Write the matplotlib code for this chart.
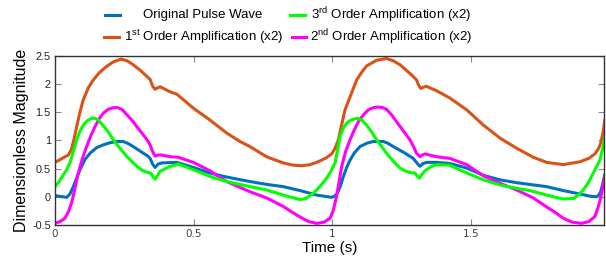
import matplotlib
matplotlib.use("Agg")
import matplotlib.pyplot as plt
from matplotlib.lines import Line2D

plt.rcParams["font.family"] = ["Liberation Sans", "DejaVu Sans"]
plt.rcParams["mathtext.fontset"] = "custom"
plt.rcParams["mathtext.rm"] = "Liberation Sans"

# Original pulse wave
t_orig = [0, 0.042, 0.054, 0.066, 0.078, 0.090, 0.108, 0.126, 0.150, 0.174, 0.200, 0.223,
          0.246, 0.265, 0.282, 0.310, 0.335, 0.343, 0.352, 0.361, 0.372, 0.385,
          0.439, 0.499, 0.559, 0.619, 0.703, 0.763, 0.823, 0.884, 0.944, 0.998, 1.008, 1.018,
          1.030, 1.040, 1.052, 1.064, 1.080, 1.100, 1.125, 1.148, 1.184, 1.200, 1.220, 1.260,
          1.292, 1.305, 1.316, 1.328, 1.340, 1.376, 1.424, 1.485, 1.545,
          1.605, 1.665, 1.725, 1.773, 1.833, 1.893, 1.930, 1.953, 1.961, 1.968, 1.975, 1.983]
v_orig = [0.02, -0.01, 0.05, 0.18, 0.33, 0.48, 0.66, 0.77, 0.87, 0.92, 0.96, 0.98,
          0.98, 0.94, 0.89, 0.80, 0.72, 0.68, 0.58, 0.52, 0.58, 0.60,
          0.61, 0.52, 0.42, 0.35, 0.27, 0.22, 0.18, 0.11, 0.03, -0.01, 0.01, 0.06,
          0.20, 0.36, 0.52, 0.65, 0.78, 0.89, 0.95, 0.98, 0.98, 0.95, 0.89, 0.78,
          0.68, 0.60, 0.54, 0.59, 0.61, 0.61, 0.59, 0.51, 0.38,
          0.30, 0.25, 0.21, 0.18, 0.11, 0.05, 0.01, 0.00, 0.03, 0.09, 0.22, 0.39]

# 1st order amplification (x2)
t_first = [0, 0.048, 0.060, 0.070, 0.078, 0.090, 0.102, 0.120, 0.138, 0.160, 0.186, 0.210,
           0.238, 0.260, 0.282, 0.310, 0.330, 0.343, 0.352, 0.361, 0.370, 0.379, 0.415,
           0.439, 0.499, 0.559, 0.619, 0.667, 0.703, 0.763, 0.823, 0.860, 0.890, 0.920, 0.944,
           0.975, 0.998, 1.010, 1.022, 1.034, 1.046, 1.064, 1.088, 1.105, 1.124, 1.160, 1.196,
           1.220, 1.244, 1.286, 1.304, 1.311, 1.319, 1.328, 1.338, 1.376,
           1.424, 1.485, 1.545, 1.605, 1.665, 1.725, 1.773, 1.833, 1.893, 1.925, 1.947, 1.960,
           1.968, 1.977, 1.983]
v_first = [0.61, 0.74, 0.85, 1.05, 1.24, 1.50, 1.72, 1.93, 2.07, 2.20, 2.31, 2.39,
           2.44, 2.41, 2.34, 2.23, 2.14, 2.08, 1.96, 1.905, 1.93, 1.95, 1.86,
           1.82, 1.57, 1.36, 1.13, 0.98, 0.89, 0.71, 0.60, 0.56, 0.55, 0.57, 0.61,
           0.68, 0.76, 0.86, 1.01, 1.28, 1.54, 1.77, 2.07, 2.20, 2.32, 2.42, 2.45,
           2.41, 2.34, 2.16, 2.07, 1.98, 1.92, 1.94, 1.96, 1.88,
           1.75, 1.54, 1.27, 1.04, 0.86, 0.70, 0.61, 0.57, 0.62, 0.68, 0.76, 0.85,
           0.95, 1.15, 1.36]

# 2nd order amplification (x2)
t_second = [0, 0.018, 0.036, 0.048, 0.060, 0.072, 0.084, 0.099, 0.114, 0.129, 0.144, 0.159,
            0.174, 0.192, 0.210, 0.226, 0.241, 0.262, 0.282, 0.300, 0.318, 0.332, 0.343,
            0.352, 0.361, 0.372, 0.385, 0.415, 0.445, 0.499, 0.559, 0.619, 0.703, 0.763,
            0.823, 0.854, 0.884, 0.915, 0.944, 0.970, 0.992, 1.003, 1.013, 1.024, 1.034,
            1.048, 1.064, 1.080, 1.094, 1.112, 1.130, 1.148, 1.166, 1.182, 1.196, 1.214,
            1.232, 1.256, 1.280, 1.292, 1.304, 1.316, 1.325, 1.334, 1.376, 1.424, 1.485,
            1.545, 1.605, 1.665, 1.725, 1.773, 1.805, 1.833, 1.865, 1.899, 1.925, 1.947,
            1.958, 1.968, 1.983]
v_second = [-0.47, -0.44, -0.38, -0.27, -0.11, 0.15, 0.42, 0.68, 0.89, 1.08, 1.24, 1.38,
            1.48, 1.55, 1.58, 1.58, 1.55, 1.44, 1.33, 1.21, 1.10, 1.01, 0.92,
            0.80, 0.72, 0.74, 0.74, 0.71, 0.70, 0.61, 0.46, 0.27, 0.09, -0.02,
            -0.17, -0.27, -0.36, -0.44, -0.47, -0.45, -0.38, -0.25, -0.05, 0.25, 0.54,
            0.80, 1.01, 1.19, 1.33, 1.45, 1.54, 1.58, 1.59, 1.58, 1.55, 1.45,
            1.33, 1.17, 1.01, 0.90, 0.77, 0.71, 0.74, 0.76, 0.71, 0.68, 0.57,
            0.37, 0.24, 0.12, -0.02, -0.18, -0.28, -0.38, -0.45, -0.47, -0.44, -0.35,
            -0.20, -0.02, 0.36]

# 3rd order amplification (x2)
t_third = [0, 0.015, 0.030, 0.042, 0.054, 0.066, 0.078, 0.090, 0.102, 0.117, 0.132, 0.144,
           0.156, 0.174, 0.192, 0.212, 0.234, 0.258, 0.282, 0.300, 0.318, 0.335, 0.345,
           0.353, 0.361, 0.370, 0.379, 0.410, 0.445, 0.499, 0.559, 0.619, 0.703, 0.763,
           0.823, 0.884, 0.905, 0.931, 0.955, 0.980, 0.995, 1.010, 1.018, 1.028, 1.040,
           1.052, 1.064, 1.080, 1.094, 1.108, 1.124, 1.142, 1.160, 1.178, 1.196, 1.220,
           1.244, 1.262, 1.280, 1.298, 1.306, 1.314, 1.324, 1.334, 1.355, 1.376, 1.424,
           1.485, 1.545, 1.605, 1.665, 1.713, 1.773, 1.833, 1.869, 1.888, 1.905, 1.925,
           1.941, 1.955, 1.965, 1.975, 1.983]
v_third = [0.18, 0.27, 0.39, 0.48, 0.60, 0.80, 1.01, 1.16, 1.27, 1.35, 1.39, 1.39,
           1.36, 1.26, 1.15, 1.00, 0.86, 0.72, 0.60, 0.52, 0.46, 0.43, 0.42,
           0.36, 0.31, 0.38, 0.45, 0.53, 0.58, 0.48, 0.36, 0.27, 0.18, 0.12,
           0.03, -0.05, -0.03, 0.06, 0.18, 0.33, 0.45, 0.60, 0.80, 1.07, 1.22,
           1.30, 1.35, 1.38, 1.39, 1.35, 1.27, 1.15, 1.01, 0.89, 0.77, 0.63,
           0.51, 0.46, 0.43, 0.42, 0.37, 0.33, 0.40, 0.46, 0.53, 0.57, 0.56,
           0.42, 0.30, 0.21, 0.15, 0.11, 0.03, -0.04, -0.03, 0.03, 0.12, 0.26,
           0.42, 0.55, 0.65, 0.85, 1.07]

x_ticks = [0, 0.5, 1, 1.5]
x_labels = ["0", "0.5", "1", "1.5"]
y_ticks = [-0.5, 0, 0.5, 1, 1.5, 2, 2.5]
y_labels = ["-0.5", "0", "0.5", "1", "1.5", "2", "2.5"]

c_orig, c_first, c_second, c_third = "#0072BD", "#D95319", "#FF00FF", "#00FF00"

fig = plt.figure(figsize=(6.06, 2.65), dpi=100)
ax = fig.add_axes([55 / 606, 40 / 265, 549 / 606, 169.3 / 265])

lw = 2.2
ax.plot(t_orig, v_orig, color=c_orig, lw=lw, solid_joinstyle="round")
ax.plot(t_first, v_first, color=c_first, lw=lw, solid_joinstyle="round")
ax.plot(t_second, v_second, color=c_second, lw=lw, solid_joinstyle="round")
ax.plot(t_third, v_third, color=c_third, lw=lw, solid_joinstyle="round")

ax.set_xlim(0, 1.98)
ax.set_ylim(-0.5, 2.5)
ax.set_xticks(x_ticks)
ax.set_xticklabels(x_labels, family="DejaVu Sans", fontsize=7.5, color="#404040")
ax.set_yticks(y_ticks)
ax.set_yticklabels(y_labels, fontsize=7.8, color="#222222")
ax.tick_params(direction="in", length=4, width=0.8, color="#888888",
               top=True, right=True, pad=3)
for s in ax.spines.values():
    s.set_color("#333333")
    s.set_linewidth(1.0)

ax.set_xlabel("Time (s)", fontsize=11, labelpad=1)
ax.set_ylabel("Dimensionless Magnitude", fontsize=11.5, labelpad=2)

# legend, laid out like the original two-column box
H = 265.0
W = 606.0
entries = [
    ("Original Pulse Wave", c_orig, 105, 120, 203, 15, "center"),
    (r"1$^{\mathrm{st}}$ Order Amplification (x2)", c_first, 104, 119, 124, 37, "left"),
    (r"3$^{\mathrm{rd}}$ Order Amplification (x2)", c_third, 290, 305, 311, 15, "left"),
    (r"2$^{\mathrm{nd}}$ Order Amplification (x2)", c_second, 292, 306, 310, 37, "left"),
]
for label, col, x0, x1, tx, y, ha in entries:
    fig.add_artist(Line2D([x0 / W, x1 / W], [1 - y / H, 1 - y / H], color=col,
                          lw=lw, transform=fig.transFigure))
    fig.text(tx / W, 1 - y / H, label, ha=ha, va="center", fontsize=9.5)

fig.savefig("out.png", dpi=100)
